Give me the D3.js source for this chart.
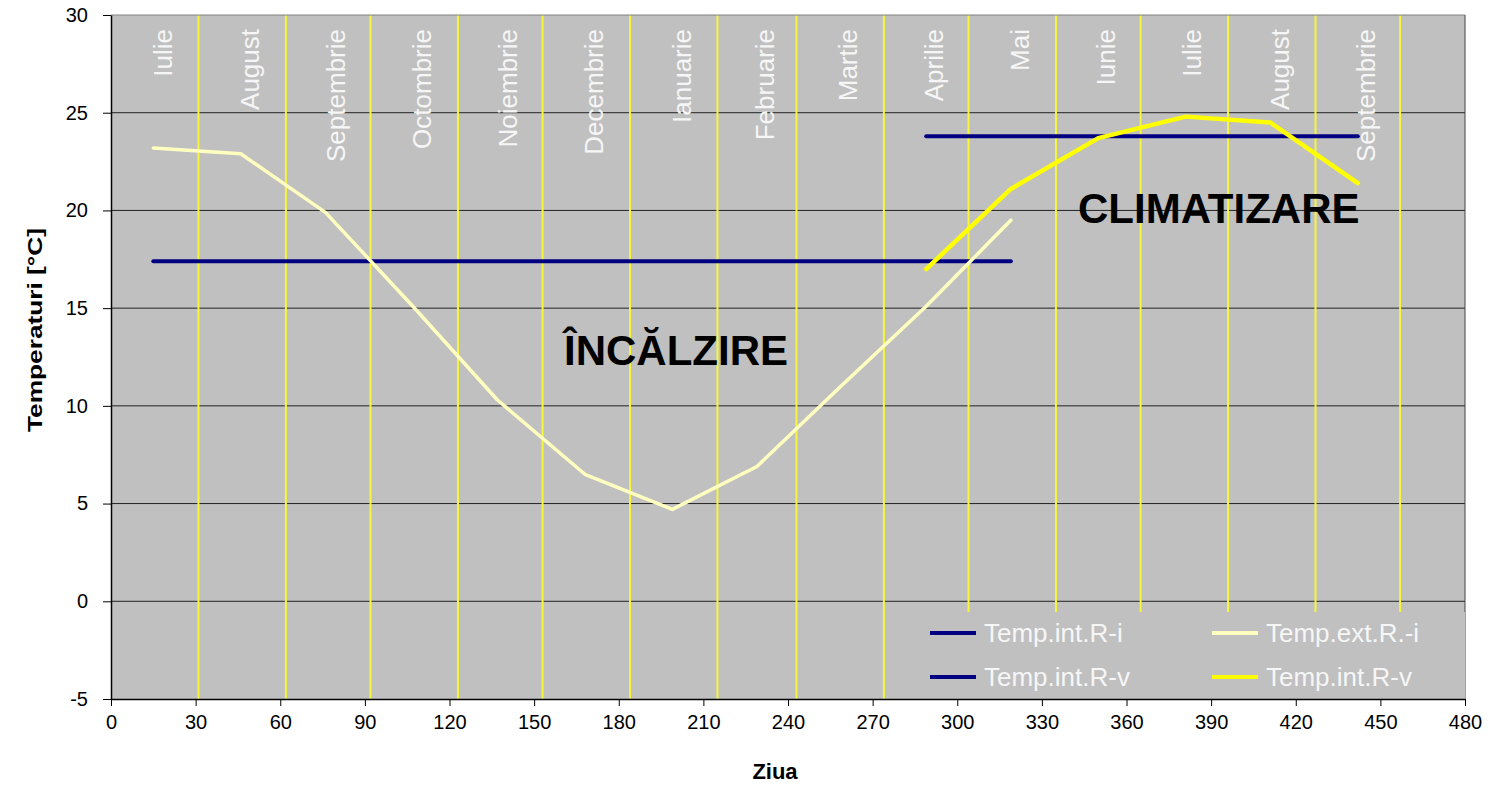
<!DOCTYPE html>
<html>
<head>
<meta charset="utf-8">
<script src="https://cdnjs.cloudflare.com/ajax/libs/d3/7.8.5/d3.min.js"></script>
<style>
  body { margin: 0; background: #fff; }
  svg text { font-family: "Liberation Sans", Arial, sans-serif; }
</style>
</head>
<body>
<div id="chart"></div>
<script>

// Zile (mijlocul lunii) pentru sezonul de incalzire
var daysI = [15, 46, 76, 107, 137, 168, 199, 229, 258, 289, 319];
var tempIntRi = [17.4, 17.4, 17.4, 17.4, 17.4, 17.4, 17.4, 17.4, 17.4, 17.4, 17.4];
var tempExtRi = [23.2, 22.9, 19.9, 15.1, 10.3, 6.5, 4.7, 6.9, 10.9, 15.1, 19.5];

// Sezonul de climatizare
var daysV = [289, 319, 350, 381, 411, 442];
var tempIntRvSet = [23.8, 23.8, 23.8, 23.8, 23.8, 23.8];
var tempIntRv = [17.0, 21.1, 23.7, 24.8, 24.5, 21.4];

// Limitele lunilor (zile cumulate de la 1 iulie)
var monthEnds = [31, 62, 92, 123, 153, 184, 215, 243, 274, 304, 335, 365, 396, 427, 457];
var monthNames = ['Iulie', 'August', 'Septembrie', 'Octombrie', 'Noiembrie', 'Decembrie',
  'Ianuarie', 'Februarie', 'Martie', 'Aprilie', 'Mai', 'Iunie', 'Iulie', 'August', 'Septembrie'];

var xTicks = d3.range(0, 481, 30);
var yTicks = [-5, 0, 5, 10, 15, 20, 25, 30];

var legendItems = [
    { name: 'Temp.int.R-i', color: '#000080', col: 0, row: 0 }
  , { name: 'Temp.ext.R.-i', color: '#ffffc0', col: 1, row: 0 }
  , { name: 'Temp.int.R-v', color: '#000080', col: 0, row: 1 }
  , { name: 'Temp.int.R-v', color: '#ffff00', col: 1, row: 1 }
];


var width = 1497, height = 786;
// NB: "top" e rezervat de window, deci nume cu prefix
var plotLeft = 111, plotRight = 1465, plotTop = 15, plotBottom = 699;

var x = d3.scaleLinear().domain([0, 480]).range([plotLeft, plotRight]);
var y = d3.scaleLinear().domain([-5, 30]).range([plotBottom, plotTop]);

var svg = d3.select('#chart').append('svg')
    .attr('width', width)
    .attr('height', height);

// fundal zona grafic
svg.append('rect')
    .attr('x', plotLeft)
    .attr('y', plotTop)
    .attr('width', plotRight - plotLeft)
    .attr('height', plotBottom - plotTop)
    .attr('fill', '#c0c0c0');

// linii orizontale de grila
svg.append('g')
  .selectAll('line')
  .data(yTicks.filter(function(d) { return d > -5 && d < 30; }))
  .enter().append('line')
    .attr('x1', plotLeft)
    .attr('x2', plotRight)
    .attr('y1', function(d) { return y(d); })
    .attr('y2', function(d) { return y(d); })
    .attr('stroke', '#222')
    .attr('stroke-width', 1);

// linii verticale galbene la schimbarea lunii
svg.append('g')
  .selectAll('line')
  .data(monthEnds)
  .enter().append('line')
    .attr('x1', function(d) { return x(d); })
    .attr('x2', function(d) { return x(d); })
    .attr('y1', plotTop)
    .attr('y2', plotBottom)
    .attr('stroke', '#f6f63a')
    .attr('stroke-width', 2);

// numele lunilor, rotite
svg.append('g')
  .selectAll('text')
  .data(monthNames)
  .enter().append('text')
    .attr('transform', function(d, i) {
      var start = i === 0 ? 0 : monthEnds[i - 1];
      var mid = (start + monthEnds[i]) / 2;
      return 'translate(' + (x(mid) + 17) + ',' + (plotTop + 14) + ') rotate(-90)';
    })
    .attr('text-anchor', 'end')
    .attr('font-size', 26)
    .attr('fill', '#f6f6f6')
    .text(function(d) { return d; });

// chenar
svg.append('line')
    .attr('x1', plotLeft).attr('x2', plotRight)
    .attr('y1', plotTop).attr('y2', plotTop)
    .attr('stroke', '#808080');
svg.append('line')
    .attr('x1', plotRight).attr('x2', plotRight)
    .attr('y1', plotTop).attr('y2', plotBottom)
    .attr('stroke', '#444');

var line = d3.line()
    .x(function(d) { return x(d[0]); })
    .y(function(d) { return y(d[1]); });

function drawSeries(days, values, color, w) {
  svg.append('path')
      .datum(d3.zip(days, values))
      .attr('d', line)
      .attr('fill', 'none')
      .attr('stroke', color)
      .attr('stroke-width', w)
      .attr('stroke-linejoin', 'round')
      .attr('stroke-linecap', 'round');
}

drawSeries(daysI, tempIntRi, '#000080', 4);
drawSeries(daysV, tempIntRvSet, '#000080', 4);
drawSeries(daysI, tempExtRi, '#ffffc0', 3.5);
drawSeries(daysV, tempIntRv, '#ffff00', 4.5);

// legenda
var legend = svg.append('g');
legend.append('rect')
    .attr('x', 898)
    .attr('y', 612)
    .attr('width', plotRight - 898)
    .attr('height', plotBottom - 612)
    .attr('fill', '#c0c0c0');

var item = legend.selectAll('g')
  .data(legendItems)
  .enter().append('g')
    .attr('transform', function(d) {
      return 'translate(' + (930 + d.col * 282) + ',' + (633 + d.row * 44) + ')';
    });

item.append('line')
    .attr('x1', 0).attr('x2', 46)
    .attr('stroke', function(d) { return d.color; })
    .attr('stroke-width', 4);

item.append('text')
    .attr('x', 54)
    .attr('dy', '0.36em')
    .attr('font-size', 26)
    .attr('fill', '#f6f6f6')
    .text(function(d) { return d.name; });

// axe (cratima simpla la -5, ca in original)
var fmt = function(d) { return String(d); };

var yAxis = svg.append('g')
    .attr('transform', 'translate(' + plotLeft + ',0)')
    .call(d3.axisLeft(y).tickValues(yTicks).tickFormat(fmt)
      .tickSize(8).tickPadding(15).tickSizeOuter(0));

var xAxis = svg.append('g')
    .attr('transform', 'translate(0,' + plotBottom + ')')
    .call(d3.axisBottom(x).tickValues(xTicks).tickFormat(fmt)
      .tickSize(7).tickPadding(9).tickSizeOuter(0));

[yAxis, xAxis].forEach(function(a) {
  a.select('.domain').attr('stroke', '#000').attr('stroke-width', 1.5);
  a.selectAll('.tick line').attr('stroke', '#000');
  a.selectAll('.tick text')
      .attr('font-size', 20)
      .attr('fill', '#000')
      .style('font-family', '"Liberation Sans", Arial, sans-serif');
});

// titluri axe
svg.append('text')
    .attr('transform', 'translate(42,330) rotate(-90) scale(1.25,1)')
    .attr('text-anchor', 'middle')
    .attr('font-size', 21)
    .attr('font-weight', 'bold')
    .text('Temperaturi [°C]');

svg.append('text')
    .attr('x', 775)
    .attr('y', 779)
    .attr('text-anchor', 'middle')
    .attr('font-size', 22)
    .attr('font-weight', 'bold')
    .text('Ziua');

// etichete sezon
svg.append('text')
    .attr('x', 564)
    .attr('y', 365)
    .attr('font-size', 42)
    .attr('font-weight', 'bold')
    .text('ÎNCĂLZIRE');

svg.append('text')
    .attr('x', 1078)
    .attr('y', 223)
    .attr('font-size', 42)
    .attr('font-weight', 'bold')
    .text('CLIMATIZARE');

</script>
</body>
</html>
